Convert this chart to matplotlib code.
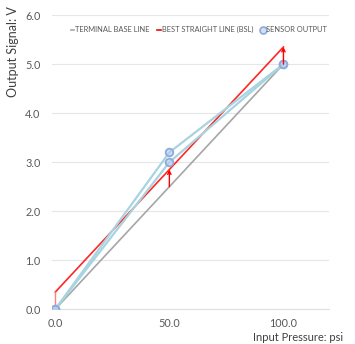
import matplotlib
matplotlib.use("Agg")
import matplotlib.pyplot as plt
from matplotlib.lines import Line2D

plt.rcParams['font.family'] = ['Lato', 'DejaVu Sans']

pressure = [0, 50, 100]
terminal = [0.0, 2.5, 5.0]
bsl = [0.35, 2.85, 5.35]
sensor_up = [0.0, 3.2, 5.0]
sensor_down = [0.0, 3.0, 5.0]
yticks = [0, 1, 2, 3, 4, 5, 6]
xticks = [0, 50, 100]

fig = plt.figure(figsize=(3.55, 3.44), dpi=100)
ax = fig.add_axes([0.146, 0.101, 0.781, 0.855])

blue_line = '#a8d4e0'
ax.plot(pressure, terminal, color='#a6a6a6', lw=1.2, zorder=2)
ax.plot(pressure, bsl, color='#ff0000', lw=1.2, zorder=3, alpha=0.85)
for s in (sensor_up, sensor_down):
    ax.plot(pressure, s, color=blue_line, lw=1.6, zorder=4,
            marker='o', ms=5.5, mfc=(0.7, 0.8, 0.93, 0.6), mec='#8eaadb', mew=1.3)

for i, (x, t, b) in enumerate(zip(pressure, terminal, bsl)):
    if i == 0:
        ax.plot([x, x], [t, b], color='#ff8080', lw=1.0, zorder=3)
    else:
        ax.annotate('', xy=(x, b), xytext=(x, t),
                    arrowprops=dict(arrowstyle='->', color='#ff0000', lw=1.0,
                                    mutation_scale=6, shrinkA=0, shrinkB=0), zorder=5)

ax.set_xlim(-1.5, 120)
ax.set_ylim(0, 6)
ax.set_yticks(yticks)
ax.set_yticklabels([f'{v:.1f}' for v in yticks])
ax.set_xticks(xticks)
ax.set_xticklabels([f'{v:.1f}' for v in xticks])
ax.grid(axis='y', color='#e6e6e6', lw=0.8)
ax.set_axisbelow(True)
for sp in ['top', 'right', 'left']:
    ax.spines[sp].set_visible(False)
ax.spines['bottom'].set_color('#e0e0e0')
ax.tick_params(axis='both', length=0, labelsize=7.8, colors='#595959')
ax.tick_params(axis='x', pad=6)
ax.tick_params(axis='y', pad=8)

ax.set_ylabel('Output Signal: V', fontsize=9, color='#404040')
ax.yaxis.set_label_coords(-0.118, 0.875)
fig.text(0.966, 0.02, 'Input Pressure: psi', fontsize=8, color='#404040', ha='right', va='center')

handles = [Line2D([], [], color='#a6a6a6', lw=1.2),
           Line2D([], [], color='#ff0000', lw=1.2),
           Line2D([], [], ls='none', marker='o', ms=5, mfc=(0.7, 0.8, 0.93, 0.6), mec='#8eaadb', mew=1.2)]
leg = ax.legend(handles, ['TERMINAL BASE LINE', 'BEST STRAIGHT LINE (BSL)', 'SENSOR OUTPUT'],
                ncol=3, frameon=False, fontsize=5.4, loc='upper center',
                bbox_to_anchor=(0.53, 0.985), handlelength=0.5, handletextpad=0.15,
                columnspacing=1.0, labelcolor='#595959')

fig.savefig('out.png', dpi=100)
